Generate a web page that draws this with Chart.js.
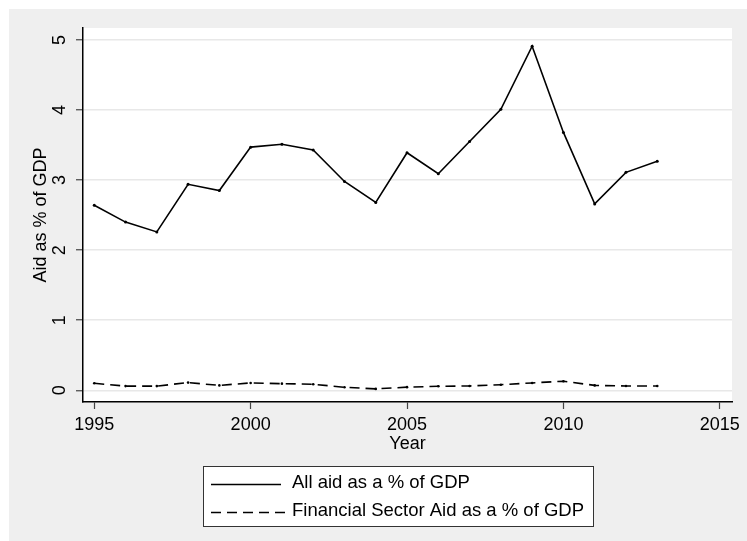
<!DOCTYPE html>
<html>
<head>
<meta charset="utf-8">
<script src="https://cdn.jsdelivr.net/npm/chart.js@4"></script>
<style>
  html, body { margin: 0; padding: 0; background: #ffffff; }
  #wrap { width: 747px; height: 541px; }
</style>
</head>
<body>
<div id="wrap"><canvas id="chart" width="747" height="541"></canvas></div>
<script>
// Aid as a share of GDP, 1995-2013
const years = [1995, 1996, 1997, 1998, 1999, 2000, 2001, 2002, 2003, 2004,
               2005, 2006, 2007, 2008, 2009, 2010, 2011, 2012, 2013];
const allAid = [2.64, 2.40, 2.26, 2.94, 2.85, 3.47, 3.51, 3.43, 2.98, 2.68,
                3.39, 3.09, 3.55, 4.01, 4.91, 3.68, 2.66, 3.11, 3.27];
const finAid = [0.10, 0.06, 0.06, 0.11, 0.07, 0.105, 0.095, 0.086, 0.043, 0.02,
                0.045, 0.057, 0.062, 0.08, 0.105, 0.13, 0.07, 0.062, 0.062];
const seriesLabels = ['All aid as a % of GDP', 'Financial Sector Aid as a % of GDP'];
const xTicks = [1995, 2000, 2005, 2010, 2015];
const yTicks = [0, 1, 2, 3, 4, 5];
const xTitle = 'Year';
const yTitle = 'Aid as % of GDP';

const FONT = '"Liberation Sans", Arial, Helvetica, sans-serif';
const BG = '#efefef';

const toPoints = vals => years.map((yr, i) => ({ x: yr, y: vals[i] }));

// Grey page background with a white plot region
const backgroundPlugin = {
  id: 'stataBackground',
  beforeDraw(chart) {
    const { ctx, chartArea: a } = chart;
    ctx.save();
    ctx.fillStyle = BG;
    ctx.fillRect(9, 9, chart.width - 9, chart.height - 9);
    ctx.fillStyle = '#ffffff';
    ctx.fillRect(a.left, a.top, a.right - a.left, a.bottom - a.top);
    ctx.restore();
  }
};

// Boxed legend below the axis title, one series per row
const boxLegendPlugin = {
  id: 'boxLegend',
  afterDraw(chart) {
    const { ctx } = chart;
    const box = { x: 203.5, y: 466.5, w: 390, h: 60 };
    ctx.save();
    ctx.fillStyle = '#ffffff';
    ctx.fillRect(box.x, box.y, box.w, box.h);
    ctx.strokeStyle = '#333333';
    ctx.lineWidth = 1;
    ctx.strokeRect(box.x, box.y, box.w, box.h);
    const rows = [483, 511];
    const lineEnds = [281, 289];
    chart.data.datasets.forEach((ds, i) => {
      const y = rows[i];
      ctx.beginPath();
      ctx.setLineDash(ds.borderDash || []);
      ctx.lineWidth = ds.borderWidth;
      ctx.strokeStyle = ds.borderColor;
      ctx.moveTo(211, y + 1.5);
      ctx.lineTo(lineEnds[i], y + 1.5);
      ctx.stroke();
      ctx.setLineDash([]);
      ctx.fillStyle = '#000000';
      ctx.font = '18.5px ' + FONT;
      ctx.textBaseline = 'middle';
      ctx.textAlign = 'left';
      ctx.fillText(ds.label, 292, y);
    });
    ctx.restore();
  }
};

new Chart(document.getElementById('chart'), {
  type: 'line',
  data: {
    datasets: [
      {
        label: seriesLabels[0],
        data: toPoints(allAid),
        borderColor: '#000000',
        backgroundColor: '#000000',
        borderWidth: 1.6,
        pointRadius: 1.5,
        pointBorderWidth: 0,
        tension: 0,
        fill: false
      },
      {
        label: seriesLabels[1],
        data: toPoints(finAid),
        borderColor: '#000000',
        backgroundColor: '#000000',
        borderWidth: 1.6,
        borderDash: [10, 6],
        pointRadius: 1.3,
        pointBorderWidth: 0,
        tension: 0,
        fill: false
      }
    ]
  },
  options: {
    responsive: false,
    animation: false,
    devicePixelRatio: 1,
    layout: { padding: { top: 28, right: 15, bottom: 0, left: 0 } },
    plugins: {
      legend: { display: false },
      tooltip: { enabled: false }
    },
    scales: {
      x: {
        type: 'linear',
        position: 'bottom',
        min: 1994.64,
        max: 2015.39,
        afterBuildTicks(scale) { scale.ticks = xTicks.map(v => ({ value: v })); },
        afterFit(scale) { scale.height = 139; },
        grid: {
          drawOnChartArea: false,
          drawTicks: true,
          tickLength: 7,
          tickColor: '#444444',
          tickWidth: 1.2
        },
        border: { display: true, color: '#000000', width: 1.5 },
        ticks: {
          color: '#000000',
          padding: 5.5,
          maxRotation: 0,
          font: { family: FONT, size: 18 },
          callback: v => String(v)
        },
        title: {
          display: true,
          text: xTitle,
          color: '#000000',
          font: { family: FONT, size: 18 },
          padding: { top: 0, bottom: 86 }
        }
      },
      y: {
        type: 'linear',
        position: 'left',
        min: -0.167,
        max: 5.17,
        afterBuildTicks(scale) { scale.ticks = yTicks.map(v => ({ value: v })); },
        afterFit(scale) { scale.width = 83; },
        grid: {
          color: '#e8e8e8',
          lineWidth: 1.5,
          drawTicks: true,
          tickLength: 7,
          tickColor: '#444444',
          tickWidth: 1.2
        },
        border: { display: true, color: '#000000', width: 1.5 },
        ticks: {
          color: '#000000',
          padding: 11,
          minRotation: 90,
          maxRotation: 90,
          crossAlign: 'center',
          font: { family: FONT, size: 18 },
          callback: v => String(v)
        },
        title: {
          display: true,
          text: yTitle,
          color: '#000000',
          font: { family: FONT, size: 18 },
          padding: { top: 30, bottom: 0 }
        }
      }
    }
  },
  plugins: [backgroundPlugin, boxLegendPlugin]
});
</script>
</body>
</html>
